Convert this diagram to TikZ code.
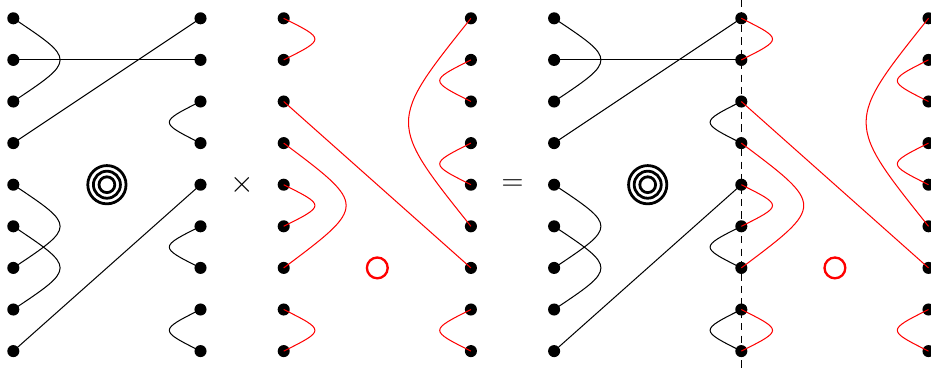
\documentclass[tikz,border=0pt]{standalone}
\begin{document}
\begin{tikzpicture}[
  dot/.style={circle,fill=black,inner sep=0pt,minimum size=0.29cm},
  wire/.style={line width=0.7pt,black},
  rwire/.style={line width=0.7pt,red},
  ring/.style={line width=1.9pt,black},
  rring/.style={line width=1.6pt,red},
  sym/.style={font=\fontsize{20}{22}\selectfont,inner sep=0pt},
  cut/.style={line width=0.7pt,dash pattern=on 5pt off 3.5pt}
]
\useasboundingbox (-0.32,0.44) rectangle (22.06,-8.67);
% dots
\foreach \c/\x in {A/0,B/4.5,C/6.5,D/11,E/13,F/17.5,G/22}
  \foreach \r in {1,...,9}
    \node[dot] (\c\r) at (\x,{1-\r}) {};
% dashed cut line
\coordinate (cuttop) at (17.5,0.44);
\coordinate (cutbot) at (17.5,-8.5);
\draw[cut] (cuttop) -- (cutbot);
% black diagrams
\foreach \L/\R in {A/B,E/F}{
  \draw[wire] (\L1.center) .. controls +(1.5,-1) and +(1.5,1) .. (\L3.center);
  \draw[wire] (\L2.center) -- (\R2.center);
  \draw[wire] (\L4.center) -- (\R1.center);
  \draw[wire] (\R3.center) .. controls +(-1,-0.5) and +(-1,0.5) .. (\R4.center);
  \draw[wire] (\L5.center) .. controls +(1.5,-1) and +(1.5,1) .. (\L7.center);
  \draw[wire] (\L6.center) .. controls +(1.5,-1) and +(1.5,1) .. (\L8.center);
  \draw[wire] (\L9.center) -- (\R5.center);
  \draw[wire] (\R6.center) .. controls +(-1,-0.5) and +(-1,0.5) .. (\R7.center);
  \draw[wire] (\R8.center) .. controls +(-1,-0.5) and +(-1,0.5) .. (\R9.center);
}
% red diagrams
\foreach \L/\R in {C/D,F/G}{
  \draw[rwire] (\L1.center) .. controls +(1,-0.5) and +(1,0.5) .. (\L2.center);
  \draw[rwire] (\L3.center) -- (\R7.center);
  \draw[rwire] (\L4.center) .. controls +(2,-1.5) and +(2,1.5) .. (\L7.center);
  \draw[rwire] (\L5.center) .. controls +(1,-0.5) and +(1,0.5) .. (\L6.center);
  \draw[rwire] (\L8.center) .. controls +(1,-0.5) and +(1,0.5) .. (\L9.center);
  \draw[rwire] (\R1.center) .. controls +(-2,-2.5) and +(-2,2.5) .. (\R6.center);
  \draw[rwire] (\R2.center) .. controls +(-1,-0.5) and +(-1,0.5) .. (\R3.center);
  \draw[rwire] (\R4.center) .. controls +(-1,-0.5) and +(-1,0.5) .. (\R5.center);
  \draw[rwire] (\R8.center) .. controls +(-1,-0.5) and +(-1,0.5) .. (\R9.center);
}
% concentric rings
\foreach \cx in {2.25,15.25}{
  \draw[ring] (\cx,-4) circle (0.46) (\cx,-4) circle (0.325) (\cx,-4) circle (0.19);
}
% red circles
\foreach \cx in {8.75,19.75}{
  \draw[rring] (\cx,-6) circle (0.25);
}
% operators
\node[sym] (times) at (5.5,-4) {$\times$};
\node[sym] (equals) at (12,-4) {$=$};
\end{tikzpicture}
\end{document}
